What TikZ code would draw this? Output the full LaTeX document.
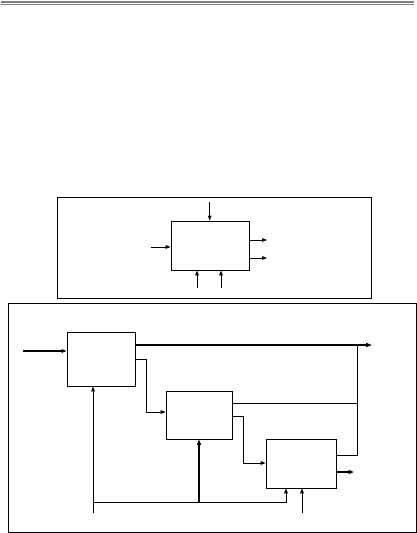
\documentclass[tikz,border=0pt]{standalone}
\usetikzlibrary{arrows.meta,positioning}

\begin{document}
\begin{tikzpicture}[x=1pt,y=-1pt,
  blk/.style={draw,line width=0.8pt,inner sep=0pt},
  arr/.style={-{Triangle[length=5pt,width=3.6pt]},line width=0.8pt},
  tarr/.style={-{Triangle[length=5.5pt,width=4pt]},line width=1.6pt},
  ln/.style={line width=0.8pt}]
  \useasboundingbox (0,0) rectangle (417,533);
  % header rule
  \draw[gray,line width=1.4pt] (1,2) -- (414,2);
  \draw[gray,line width=0.6pt] (1,4.5) -- (414,4.5);
  % top frame: single block
  \draw[ln] (57,197) rectangle (371,298);
  \node[blk,minimum width=78pt,minimum height=49pt] (sys) at (210,245.5) {};
  \coordinate (tin) at (209.7,202);
  \coordinate (lin) at (151,247);
  \coordinate (ro1) at (267,240);
  \coordinate (ro2) at (267,258);
  \coordinate (bi1) at (197,288);
  \coordinate (bi2) at (221,288);
  \draw[arr] (tin) -- (tin |- sys.north);
  \draw[arr] (lin) -- (lin -| sys.west);
  \draw[arr] (ro1 -| sys.east) -- (ro1);
  \draw[arr] (ro2 -| sys.east) -- (ro2);
  \draw[arr] (bi1) -- (bi1 |- sys.south);
  \draw[arr] (bi2) -- (bi2 |- sys.south);
  % bottom frame: three blocks in cascade
  \draw[ln] (8,303) rectangle (416,532);
  \node[blk,minimum width=68pt,minimum height=54pt] (A) at (101,359) {};
  \node[blk,minimum width=66pt,minimum height=48pt] (B) at (199,415) {};
  \node[blk,minimum width=70pt,minimum height=49pt] (C) at (301,463.5) {};
  \coordinate (ain) at (23,351);
  \coordinate (aout) at (372,345);
  \coordinate (ab1) at (146,359);
  \coordinate (ab2) at (146,412);
  \coordinate (bc1) at (243,416);
  \coordinate (bc2) at (243,463);
  \coordinate (jt) at (357,345);
  \coordinate (jb) at (357,455);
  \coordinate (bj) at (357,403);
  \coordinate (cout) at (354,472);
  \coordinate (fb) at (93,513);
  \coordinate (fbr) at (286,502);
  \coordinate (cb) at (302,513);
  \draw[arr,line width=1.3pt] (ain) -- (ain -| A.west);
  \draw[-{Triangle[length=6pt,width=4pt]},line width=2pt] (aout -| A.east) -- (aout);
  \draw[arr] (ab1 -| A.east) -- (ab1) -- (ab2) -- (ab2 -| B.west);
  \draw[ln] (bj -| B.east) -- (bj);
  \draw[ln] (jt) -- (jb) -- (jb -| C.east);
  \draw[arr] (bc1 -| B.east) -- (bc1) -- (bc2) -- (bc2 -| C.west);
  \draw[tarr] (cout -| C.east) -- (cout);
  \draw[arr] (fb) -- (fb |- A.south);
  \draw[arr] (fb |- fbr) -- (fbr) -- (fbr |- C.south);
  \draw[tarr] (B.south |- fbr) -- (B.south);
  \draw[arr] (cb) -- (cb |- C.south);
\end{tikzpicture}
\end{document}
